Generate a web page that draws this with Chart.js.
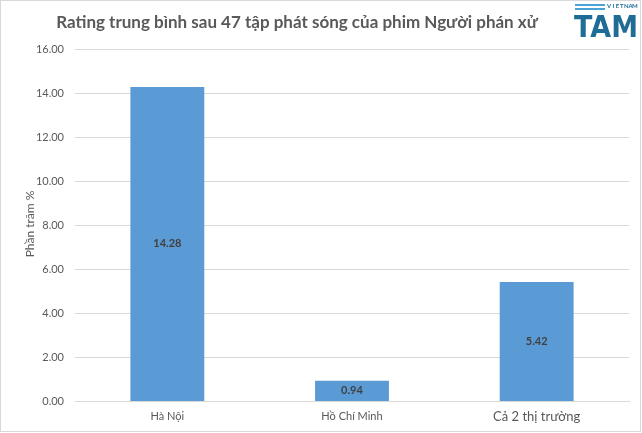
<!DOCTYPE html>
<html>
<head>
<meta charset="utf-8">
<script src="https://cdn.jsdelivr.net/npm/chart.js@4"></script>
<style>
html,body{margin:0;padding:0;background:#fff;}
#wrap{position:relative;width:642px;height:433px;}
canvas{display:block;}
</style>
</head>
<body>
<div id="wrap"><canvas id="c" width="642" height="433"></canvas></div>
<script>
const categories = ["Hà Nội", "Hồ Chí Minh", "Cả 2 thị trường"];
const ratings = [14.28, 0.94, 5.42];
const yTicks = [0, 2, 4, 6, 8, 10, 12, 14, 16];
const titleText = "Rating trung bình sau 47 tập phát sóng của phim Người phán xử";
const yTitle = "Phần trăm %";

const FONT = "Lato, 'Open Sans', sans-serif";

const decor = {
  id: 'decor',
  beforeDraw(chart) {
    const ctx = chart.ctx;
    ctx.save();
    ctx.fillStyle = '#fff';
    ctx.fillRect(0, 0, chart.width, chart.height);
    ctx.strokeStyle = '#d9d9d9';
    ctx.lineWidth = 1;
    ctx.strokeRect(0.5, 0.5, chart.width - 2, chart.height - 2);
    ctx.restore();
  },
  afterDraw(chart) {
    const ctx = chart.ctx;
    ctx.save();
    // title
    ctx.fillStyle = '#595959';
    ctx.font = "bold 17px " + FONT;
    ctx.textAlign = 'center';
    ctx.textBaseline = 'middle';
    ctx.fillText(titleText, 297, 23);
    // y title
    ctx.translate(30, 224);
    ctx.rotate(-Math.PI / 2);
    ctx.font = "12px " + FONT;
    ctx.fillText(yTitle, 0, 0);
    ctx.restore();
    // data labels
    ctx.save();
    const meta = chart.getDatasetMeta(0);
    ctx.fillStyle = '#404040';
    ctx.font = "bold 11px " + FONT;
    ctx.textAlign = 'center';
    ctx.textBaseline = 'middle';
    meta.data.forEach((bar, i) => {
      const y = (bar.y + bar.base) / 2;
      ctx.fillText(ratings[i].toFixed(2), bar.x, y);
    });
    ctx.restore();
    // logo
    ctx.save();
    ctx.fillStyle = '#4aa3d6';
    ctx.fillRect(575, 4, 30, 2);
    ctx.fillRect(575, 8, 30, 2);
    ctx.fillStyle = '#1f6d96';
    ctx.font = "bold 6px " + FONT;
    ctx.textAlign = 'center';
    ctx.textBaseline = 'middle';
    const vn = "VIETNAM";
    for (let i = 0; i < vn.length; i++) ctx.fillText(vn[i], 609 + i * 4.3, 6);
    ctx.font = "bold 30px 'DejaVu Sans', sans-serif";
    ctx.textAlign = 'left';
    ctx.textBaseline = 'alphabetic';
    ctx.translate(574, 37);
    const w = ctx.measureText("TAM").width;
    ctx.scale(64 / w, 1);
    ctx.fillText("TAM", 0, 0);
    ctx.restore();
  }
};

new Chart(document.getElementById('c'), {
  type: 'bar',
  data: {
    labels: categories,
    datasets: [{
      data: ratings,
      backgroundColor: '#5b9bd5',
      borderWidth: 0,
      categoryPercentage: 1.0,
      barPercentage: 0.4
    }]
  },
  options: {
    responsive: false,
    animation: false,
    devicePixelRatio: 1,
    layout: { padding: { top: 49, right: 13, bottom: 0, left: 0 } },
    plugins: { legend: { display: false }, tooltip: { enabled: false }, title: { display: false } },
    scales: {
      x: {
        grid: { display: false, drawTicks: false },
        border: { display: true, color: '#d9d9d9' },
        ticks: {
          color: '#595959',
          padding: 8,
          font: (c) => ({ family: FONT, size: c.index === 2 ? 13 : 11 })
        }
      },
      y: {
        min: 0, max: 16,
        afterBuildTicks(axis) { axis.ticks = yTicks.map(v => ({ value: v })); },
        grid: { color: '#d9d9d9', drawTicks: false },
        border: { display: false },
        ticks: {
          color: '#595959',
          padding: 11,
          font: { family: FONT, size: 11 },
          callback: (v) => Number(v).toFixed(2)
        },
        afterFit(axis) { axis.width = 75; }
      }
    }
  },
  plugins: [decor]
});
</script>
</body>
</html>
